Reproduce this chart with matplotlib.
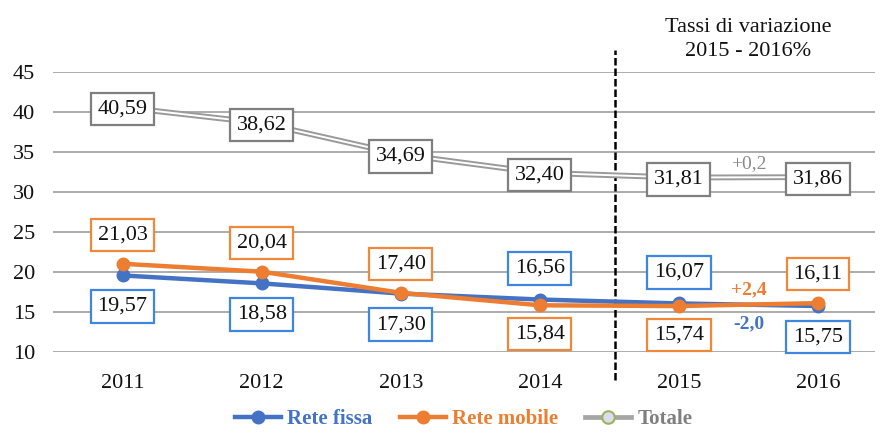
import matplotlib.pyplot as plt
from matplotlib.lines import Line2D

plt.rcParams['font.family'] = ['Liberation Serif', 'DejaVu Serif']

anni = ['2011', '2012', '2013', '2014', '2015', '2016']
rete_fissa = [19.57, 18.58, 17.30, 16.56, 16.07, 15.75]
rete_mobile = [21.03, 20.04, 17.40, 15.84, 15.74, 16.11]
totale = [40.59, 38.62, 34.69, 32.40, 31.81, 31.86]
# label above (+1) or below (-1) the point
pos_fissa = [-1, -1, -1, 1, 1, -1]
pos_mobile = [1, 1, 1, -1, -1, 1]
var_totale = '+0,2'
var_mobile = '+2,4'
var_fissa = '-2,0'

blu = '#4472C4'
arancio = '#ED7D31'
grigio = '#A5A5A5'

fig = plt.figure(figsize=(8.8, 4.32), dpi=100)
ax = fig.add_axes([53 / 880, 80 / 432, 822 / 880, 280 / 432])
x = list(range(len(anni)))

ax.set_ylim(10, 45)
ax.set_xlim(-0.5, 5.41)
ax.set_yticks(range(10, 46, 5))
ax.set_xticks(x)
ax.set_xticklabels(anni)
ax.tick_params(axis='both', length=0, labelsize=16, colors='#111111')
ax.tick_params(axis='y', pad=13)
ax.tick_params(axis='x', pad=16)
for s in ax.spines.values():
    s.set_visible(False)
ax.grid(axis='y', color='#a6a6a6', lw=1.3)
ax.set_axisbelow(True)

# totale: double line
ax.plot(x, totale, color='#9a9a9a', lw=4.2, zorder=3, solid_capstyle='butt')
ax.plot(x, totale, color='white', lw=1.4, zorder=3.1)
ax.plot(x, rete_fissa, color=blu, lw=3.2, marker='o', ms=9, zorder=4)
ax.plot(x, rete_mobile, color=arancio, lw=3.2, marker='o', ms=9, zorder=5)

def etichetta(xi, v, dy, ec):
    ax.annotate(f'{v:.2f}'.replace('.', ','), (xi, v), xytext=(0, dy),
                textcoords='offset pixels', ha='center', va='center',
                fontsize=16, color='#111111', zorder=6,
                bbox=dict(boxstyle='square,pad=0.3', fc='white', ec=ec, lw=1.6))

for i in x:
    etichetta(i, totale[i], -2, '#7f7f7f')
    etichetta(i, rete_fissa[i], 31 * pos_fissa[i], '#3f86e0')
    etichetta(i, rete_mobile[i], 29 * pos_mobile[i], '#f0883a')

ax.text(4.5, 33.6, var_totale, ha='center', va='center', fontsize=14, color='#8a8a8a', zorder=7)
ax.text(4.5, 17.75, var_mobile, ha='center', va='center', fontsize=14, color=arancio,
        fontweight='bold', zorder=7)
ax.text(4.5, 13.5, var_fissa, ha='center', va='center', fontsize=14, color=blu,
        fontweight='bold', zorder=7)

ax.axvline(3.54, ymin=-0.1, ymax=1.08, color='black', lw=1.8, ls=(0, (3, 1.2)),
           clip_on=False, zorder=2)
ax.text(4.5, 49.1, 'Tassi di variazione\n2015 - 2016%', ha='center', va='center',
        fontsize=16, color='#111111', linespacing=1.35)

handles = [
    Line2D([], [], color=blu, lw=3.2, marker='o', ms=9),
    Line2D([], [], color=arancio, lw=3.2, marker='o', ms=9),
    Line2D([], [], color=grigio, lw=3.4, marker='o', ms=9, mfc='#dcdcf0', mec='#9cb35a', mew=1.5),
]
leg = fig.legend(handles, ['Rete fissa', 'Rete mobile', 'Totale'], loc='center',
                 bbox_to_anchor=(0.527, 0.03), ncol=3, frameon=False,
                 prop={'size': 15, 'weight': 'bold'}, handlelength=2.2,
                 handletextpad=0.3, columnspacing=1.3)
for t, c in zip(leg.get_texts(), [blu, arancio, '#7f7f7f']):
    t.set_color(c)

fig.savefig('out.png', dpi=100)
